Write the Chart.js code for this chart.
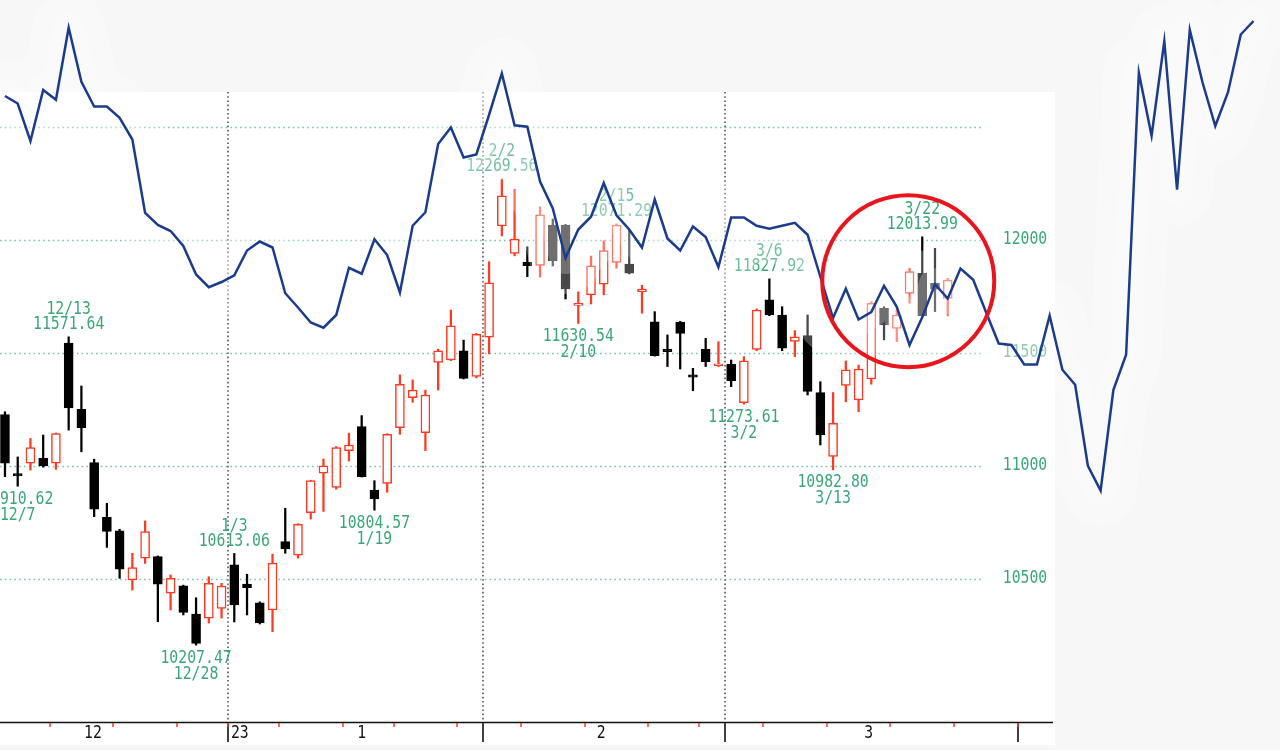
<!DOCTYPE html>
<html>
<head>
<meta charset="utf-8">
<title>Chart</title>
<script src="https://cdn.jsdelivr.net/npm/chart.js@4.4.0/dist/chart.umd.min.js"></script>
<style>
    html, body { margin: 0; padding: 0; background: #f7f7f7; }
    #chart-wrap { position: relative; width: 1280px; height: 750px; overflow: hidden; }
    canvas { display: block; }
</style>
</head>
<body>
<div id="chart-wrap"><canvas id="chart-candle" width="1280" height="750"></canvas></div>
<script>
var dates = ['12/6', '12/7', '12/8', '12/9', '12/12', '12/13', '12/14', '12/15', '12/16', '12/19',
    '12/20', '12/21', '12/22', '12/23', '12/27', '12/28', '12/29', '12/30', '1/3', '1/4',
    '1/5', '1/6', '1/9', '1/10', '1/11', '1/12', '1/13', '1/17', '1/18', '1/19',
    '1/20', '1/23', '1/24', '1/25', '1/26', '1/27', '1/30', '1/31', '2/1', '2/2',
    '2/3', '2/6', '2/7', '2/8', '2/9', '2/10', '2/13', '2/14', '2/15', '2/16',
    '2/17', '2/21', '2/22', '2/23', '2/24', '2/27', '2/28', '3/1', '3/2', '3/3',
    '3/6', '3/7', '3/8', '3/9', '3/10', '3/13', '3/14', '3/15', '3/16', '3/17',
    '3/20', '3/21', '3/22', '3/23', '3/24'];
var opens = [11227, 10966, 11012, 11034, 11012, 11544, 11251, 11015, 10773, 10713,
    10496, 10592, 10599, 10437, 10470, 10345, 10327, 10370, 10563, 10478,
    10395, 10363, 10666, 10606, 10794, 10968, 10905, 11068, 11174, 10894,
    10923, 11170, 11302, 11148, 11458, 11469, 11510, 11396, 11570, 12062,
    11941, 11902, 11887, 12066, 12066, 11710, 11757, 11805, 11901, 11893,
    11771, 11638, 11516, 11636, 11403, 11516, 11444, 11450, 11280, 11516,
    11735, 11668, 11551, 11577, 11325, 11042, 11356, 11292, 11385, 11698,
    11609, 11764, 11853, 11808, 11742];
var highs = [11240, 11040, 11122, 11137, 11146, 11571.64, 11354, 11030, 10835, 10720,
    10614, 10757, 10602, 10518, 10473, 10417, 10510, 10481, 10613.06, 10521,
    10399, 10610, 10813, 10745, 10937, 11031, 11086, 11145, 11223, 10935,
    11143, 11403, 11381, 11336, 11517, 11690, 11557, 11587, 11904, 12269.56,
    12224, 11970, 12147, 12093, 12069, 11771, 11929, 11997, 12071.29, 12044,
    11800, 11683, 11580, 11640, 11432, 11565, 11550, 11469, 11484, 11695,
    11827.92, 11705, 11599, 11668, 11373, 11325, 11465, 11447, 11727, 11705,
    11698, 11875, 12013.99, 11963, 11830];
var lows = [10953, 10910.62, 10982, 10995, 10985, 11159, 11063, 10776, 10640, 10503,
    10451, 10569, 10311, 10363, 10341, 10207.47, 10305, 10327, 10310, 10341,
    10301, 10267, 10614, 10592, 10765, 10799, 10897, 11022, 10951, 10804.57,
    10884, 11140, 11282, 11068, 11336, 11466, 11385, 11390, 11496, 12018,
    11930, 11838, 11836, 11885, 11739, 11630.54, 11717, 11757, 11875, 11850,
    11676, 11486, 11440, 11429, 11333, 11440, 11440, 11351, 11273.61, 11510,
    11665, 11510, 11484, 11314, 11093, 10982.80, 11284, 11240, 11362, 11558,
    11550, 11720, 11660, 11683, 11664];
var closes = [11012, 10956, 11081, 11000, 11144, 11257, 11170, 10809, 10710, 10544,
    10550, 10710, 10477, 10503, 10352, 10215, 10481, 10469, 10385, 10462,
    10307, 10570, 10633, 10742, 10935, 11001, 11081, 11093, 10953, 10854,
    11140, 11361, 11336, 11314, 11510, 11620, 11388, 11583, 11811, 12195,
    12004, 11886, 12111, 11908, 11783, 11720, 11886, 11953, 12066, 11853,
    11783, 11488, 11506, 11587, 11393, 11462, 11452, 11378, 11465, 11690,
    11668, 11521, 11572, 11330, 11137, 11189, 11425, 11429, 11720, 11624,
    11668, 11860, 11664, 11782, 11823];
// overlay series (no scale shown), runs past the last candle
var compare = [87.2, 86.2, 81.2, 88.0, 86.7, 96.3, 89.1, 85.8, 85.8, 84.3,
    81.4, 71.6, 70.0, 69.2, 67.2, 63.4, 61.7, 62.4, 63.3, 66.6,
    67.8, 67.0, 60.9, 59.0, 57.0, 56.3, 58.0, 64.3, 63.5, 68.1,
    66.0, 61.0, 69.9, 71.7, 80.8, 83.0, 79.0, 79.4, 84.7, 90.2,
    83.3, 83.1, 75.8, 72.2, 65.6, 69.4, 71.1, 75.6, 71.3, 69.4,
    67.0, 73.4, 68.2, 66.6, 69.8, 68.4, 64.4, 71.0, 71.0, 69.9,
    69.5, 69.9, 70.3, 68.7, 63.1, 57.6, 61.5, 57.4, 58.4, 61.9,
    59.1, 54.0, 57.7, 62.1, 60.2, 64.2, 62.7, 58.4, 54.2, 54.0,
    51.4, 51.4, 57.9, 50.7, 48.7, 37.9, 34.6, 48.0, 52.7, 90.3,
    81.9, 94.5, 74.7, 96.0, 89.0, 83.2, 87.7, 95.4, 97.2];
var priceGrid = [10500, 11000, 11500, 12000, 12500];
var priceLabels = [10500, 11000, 11500, 12000];
var monthBreaks = [17.5, 37.5, 56.5, 79.5];
var weekBreaks = [3.5, 8.5, 13.5, 17.5, 21.5, 26.5, 30.5, 35.5, 40.5, 45.5, 50.5, 54.5, 59.5, 64.5, 69.5, 74.5, 79.5];
var monthNames = ['12', '1', '2', '3'];
var monthNameAt = [6.9, 28, 46.8, 67.8];
var yearName = '23';
var yearAt = 17.5;
var peaks = [5, 18, 39, 48, 60, 72];
var troughs = [1, 15, 29, 45, 58, 65];

var panel = { left: 0, top: 92, right: 1055, bottom: 745, axisY: 722, gridRight: 981 };
var FONT = '17px "DejaVu Sans Mono", "Liberation Mono", monospace';
var GREEN = '#3aa676';
var UP = '#ff3a22';

$ready(function () {
    LoadChart();
});
function $ready(fn) {
    if (document.readyState !== 'loading') fn(); else document.addEventListener('DOMContentLoaded', fn);
}

function narrowText(ctx, text, x, y, align) {
    ctx.save();
    ctx.translate(x, y);
    ctx.scale(0.87, 1);
    ctx.textAlign = align || 'center';
    ctx.textBaseline = 'middle';
    ctx.fillText(text, 0, 0);
    ctx.restore();
}

var framePlugin = {
    id: 'frame',
    beforeDraw: function (chart) {
        var ctx = chart.ctx;
        ctx.save();
        ctx.fillStyle = '#ffffff';
        ctx.fillRect(panel.left, panel.top, panel.right - panel.left, panel.bottom - panel.top);
        ctx.restore();
    },
    beforeDatasetsDraw: function (chart) {
        var ctx = chart.ctx, xs = chart.scales.x, ys = chart.scales.y;
        ctx.save();
        ctx.lineWidth = 1.4;
        ctx.strokeStyle = '#74c8a6';
        ctx.setLineDash([1.6, 3.2]);
        priceGrid.forEach(function (p) {
            var py = Math.round(ys.getPixelForValue(p)) + 0.5;
            ctx.beginPath();
            ctx.moveTo(panel.left, py);
            ctx.lineTo(panel.gridRight, py);
            ctx.stroke();
        });
        ctx.strokeStyle = '#555555';
        ctx.lineWidth = 1.6;
        ctx.setLineDash([1.6, 2.6]);
        monthBreaks.forEach(function (m) {
            var px = Math.round(xs.getPixelForValue(m));
            if (px > panel.gridRight) return;
            ctx.beginPath();
            ctx.moveTo(px, panel.top);
            ctx.lineTo(px, panel.axisY);
            ctx.stroke();
        });
        ctx.setLineDash([]);

        // time axis
        ctx.strokeStyle = '#111111';
        ctx.lineWidth = 1.6;
        ctx.beginPath();
        ctx.moveTo(panel.left, panel.axisY + 0.5);
        ctx.lineTo(panel.right - 2, panel.axisY + 0.5);
        ctx.stroke();
        monthBreaks.forEach(function (m) {
            var px = Math.round(xs.getPixelForValue(m));
            ctx.beginPath();
            ctx.moveTo(px, panel.axisY);
            ctx.lineTo(px, panel.axisY + 20);
            ctx.stroke();
        });
        ctx.strokeStyle = UP;
        ctx.lineWidth = 1.5;
        weekBreaks.forEach(function (w) {
            var px = Math.round(xs.getPixelForValue(w));
            ctx.beginPath();
            ctx.moveTo(px, panel.axisY + 1);
            ctx.lineTo(px, panel.axisY + 5);
            ctx.stroke();
        });
        ctx.font = FONT;
        ctx.fillStyle = '#111111';
        monthNames.forEach(function (t, k) {
            narrowText(ctx, t, xs.getPixelForValue(monthNameAt[k]), panel.axisY + 12);
        });
        narrowText(ctx, yearName, xs.getPixelForValue(yearAt) + 3, panel.axisY + 12, 'left');

        // price labels and high / low notes
        ctx.fillStyle = GREEN;
        priceLabels.forEach(function (p) {
            narrowText(ctx, String(p), 1025, ys.getPixelForValue(p));
        });
        peaks.forEach(function (i) {
            var px = xs.getPixelForValue(i), py = ys.getPixelForValue(highs[i]);
            narrowText(ctx, highs[i].toFixed(2), px, py - 12);
            narrowText(ctx, dates[i], px, py - 27);
        });
        troughs.forEach(function (i) {
            var px = xs.getPixelForValue(i), py = ys.getPixelForValue(lows[i]);
            narrowText(ctx, lows[i].toFixed(2), px, py + 13);
            narrowText(ctx, dates[i], px, py + 29);
        });
        ctx.restore();
    },
    afterDatasetsDraw: function (chart) {
        var ctx = chart.ctx, xs = chart.scales.x, ys = chart.scales.y;
        ctx.save();
        ctx.strokeStyle = '#e8151d';
        ctx.lineWidth = 4;
        ctx.beginPath();
        ctx.ellipse(xs.getPixelForValue(70.9), ys.getPixelForValue(11818), 86, 86, 0, 0, Math.PI * 2);
        ctx.stroke();
        ctx.restore();
    }
};

function LoadChart() {
    var bodies = [], wicks = [], fills = [], edges = [];
    for (var i = 0; i < dates.length; i++) {
        var up = closes[i] >= opens[i];
        bodies.push({ x: i, y: [opens[i], closes[i]] });
        wicks.push({ x: i, y: [lows[i], highs[i]] });
        fills.push(up ? '#ffffff' : '#000000');
        edges.push(up ? UP : '#000000');
    }
    var line = compare.map(function (v, k) { return { x: k, y: v }; });

    var ctx = document.getElementById('chart-candle');
    var chart = new Chart(ctx, {
        type: 'bar',
        data: {
            datasets: [{
                type: 'line', data: line, yAxisID: 'y2', order: 1,
                borderColor: '#1b3c8c', borderWidth: 2.5, pointRadius: 0, tension: 0
            }, {
                type: 'line', data: line, yAxisID: 'y2', order: 2,
                borderColor: 'rgba(255,255,255,0.22)', borderWidth: 32, pointRadius: 0, tension: 0,
                borderJoinStyle: 'round', borderCapStyle: 'round'
            }, {
                type: 'line', data: line, yAxisID: 'y2', order: 3,
                borderColor: 'rgba(255,255,255,0.28)', borderWidth: 72, pointRadius: 0, tension: 0,
                borderJoinStyle: 'round', borderCapStyle: 'round'
            }, {
                data: bodies, order: 4, grouped: false, barThickness: 9,
                backgroundColor: fills, borderColor: edges, borderWidth: 1.5, borderSkipped: false
            }, {
                data: wicks, order: 5, grouped: false, barThickness: 1.6,
                backgroundColor: edges, borderWidth: 0
            }]
        },
        options: {
            responsive: false,
            animation: false,
            devicePixelRatio: 1,
            layout: { padding: 0 },
            plugins: { legend: { display: false }, tooltip: { enabled: false } },
            scales: {
                x: { type: 'linear', min: -0.39, max: 100.08, offset: false, display: false },
                y: { min: 9743.4, max: 13061.9, display: false },
                y2: { min: 0, max: 100, display: false }
            }
        },
        plugins: [framePlugin]
    });
}
</script>
</body>
</html>
